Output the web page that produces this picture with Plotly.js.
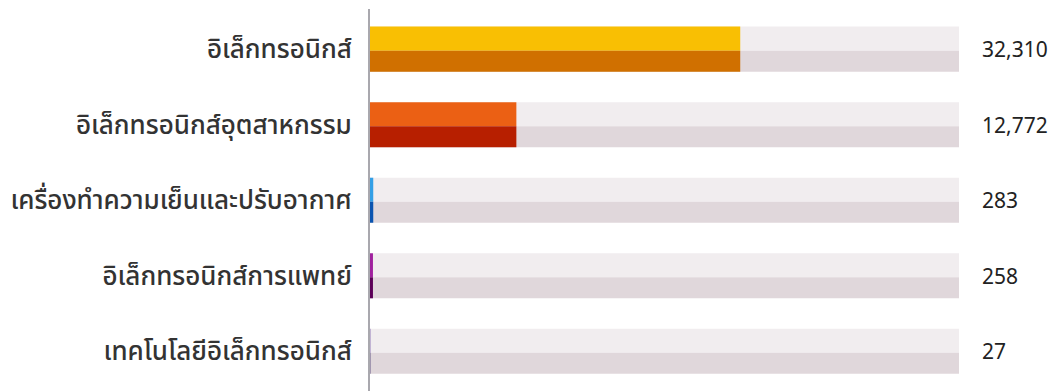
<!DOCTYPE html>
<html>
<head>
<meta charset="utf-8">
<script src="https://cdn.plot.ly/plotly-3.0.1.min.js"></script>
<style>html,body{margin:0;padding:0;background:#fff;}#chart{width:1051px;height:391px;}</style>
</head>
<body>
<div id="chart"></div>
<script>
const categories = ["อิเล็กทรอนิกส์", "อิเล็กทรอนิกส์อุตสาหกรรม", "เครื่องทำความเย็นและปรับอากาศ", "อิเล็กทรอนิกส์การแพทย์", "เทคโนโลยีอิเล็กทรอนิกส์"];
const values = [32310, 12772, 283, 258, 27];
const trackMax = 51400;
const topColors = ["#F9BF03", "#EB6014", "#349FE6", "#A0219E", "#5B3899"];
const bottomColors = ["#D07000", "#B71F00", "#0A54B0", "#5C0058", "#1B0B50"];

const wTop = 0.318, wBot = 0.278, mid = 0.02;
const trackVals = categories.map(() => trackMax);

const traces = [
  {type:'bar', orientation:'h', y:categories, x:trackVals, offset: mid - wTop, width: wTop,
   marker:{color:'#F1EDEF'}, hoverinfo:'skip'},
  {type:'bar', orientation:'h', y:categories, x:trackVals, offset: mid, width: wBot,
   marker:{color:'#E0D7DB'}, hoverinfo:'skip'},
  {type:'bar', orientation:'h', y:categories, x:values, offset: mid - wTop, width: wTop,
   marker:{color:topColors}},
  {type:'bar', orientation:'h', y:categories, x:values, offset: mid, width: wBot,
   marker:{color:bottomColors}}
];

const annotations = categories.map((c, i) => ({
  xref:'paper', yref:'y', x:1, y:c, xanchor:'left', yanchor:'middle',
  xshift:21, showarrow:false, text: values[i].toLocaleString('en-US'),
  font:{family:'"Noto Sans", "Open Sans", sans-serif', size:21, color:'#222'}
}));

const layout = {
  width:1051, height:391,
  margin:{l:370, r:92, t:9, b:0, pad:0},
  paper_bgcolor:'#fff', plot_bgcolor:'#fff',
  barmode:'overlay', showlegend:false,
  xaxis:{range:[0, trackMax], visible:false, fixedrange:true},
  yaxis:{type:'category', range:[4.525, -0.531], showgrid:false, zeroline:false,
         showline:true, linecolor:'#A9A8AE', linewidth:2, ticks:'',
         ticklabelstandoff:11,
         tickfont:{family:'"Noto Sans Thai", "Noto Sans Thai Looped", "Noto Sans", sans-serif', size:26, weight:500, color:'#333'}},
  annotations: annotations
};

Plotly.newPlot('chart', traces, layout, {displayModeBar:false, staticPlot:true});
</script>
</body>
</html>
